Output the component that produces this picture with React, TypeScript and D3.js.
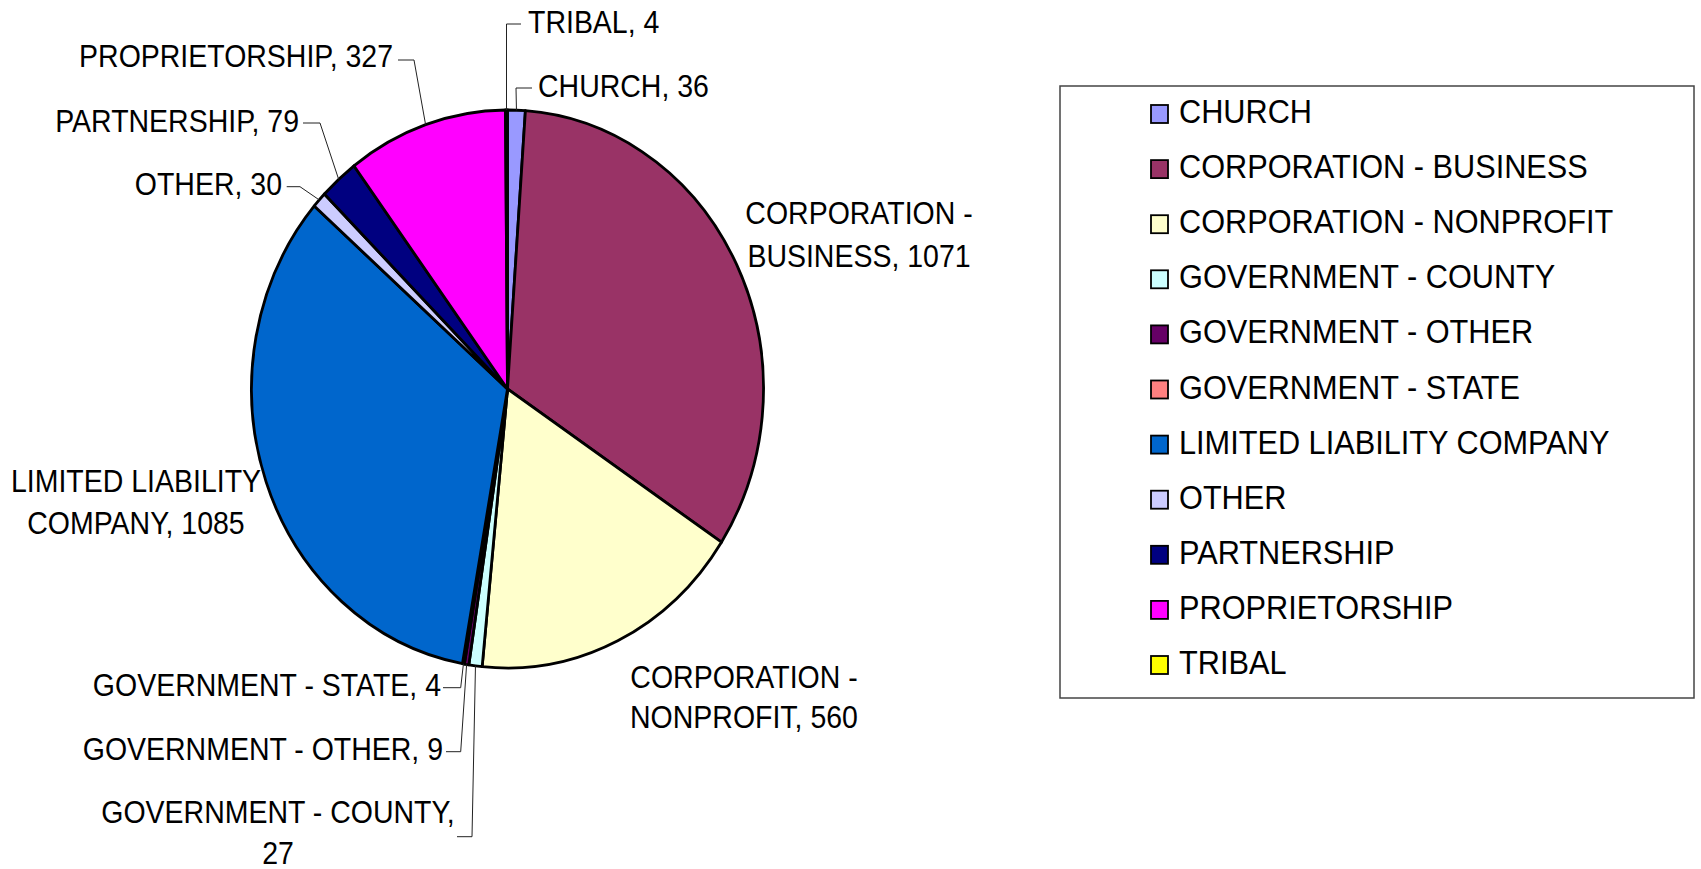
import React from "react";
import * as d3 from "d3";

const categories = [
  "CHURCH",
  "CORPORATION - BUSINESS",
  "CORPORATION - NONPROFIT",
  "GOVERNMENT - COUNTY",
  "GOVERNMENT - OTHER",
  "GOVERNMENT - STATE",
  "LIMITED LIABILITY COMPANY",
  "OTHER",
  "PARTNERSHIP",
  "PROPRIETORSHIP",
  "TRIBAL",
];
const values = [36, 1071, 560, 27, 9, 4, 1085, 30, 79, 327, 4];
const colors = [
  "#9999FF",
  "#993366",
  "#FFFFCC",
  "#CCFFFF",
  "#660066",
  "#FF8080",
  "#0066CC",
  "#CCCCFF",
  "#000080",
  "#FF00FF",
  "#FFFF00",
];

type Lab = {
  lines: string[];
  x: number;
  y: number;
  gap: number;
  anchor: "start" | "middle" | "end";
  leader?: [number, number][];
};
const labelLayout: Lab[] = [
  { lines: ["CHURCH, 36"], x: 538, y: 97, gap: 0, anchor: "start", leader: [[532, 88], [516, 88]] },
  { lines: ["CORPORATION -", "BUSINESS, 1071"], x: 859, y: 224, gap: 43, anchor: "middle" },
  { lines: ["CORPORATION -", "NONPROFIT, 560"], x: 744, y: 688, gap: 40, anchor: "middle" },
  { lines: ["GOVERNMENT - COUNTY,", "27"], x: 278, y: 823, gap: 41, anchor: "middle", leader: [[457, 836.7], [472, 836.7]] },
  { lines: ["GOVERNMENT - OTHER, 9"], x: 443, y: 760, gap: 0, anchor: "end", leader: [[446, 751.7], [460.7, 751.7]] },
  { lines: ["GOVERNMENT - STATE, 4"], x: 441, y: 696, gap: 0, anchor: "end", leader: [[443, 687.7], [460.7, 687.7]] },
  { lines: ["LIMITED LIABILITY", "COMPANY, 1085"], x: 136, y: 492, gap: 42, anchor: "middle" },
  { lines: ["OTHER, 30"], x: 282, y: 195, gap: 0, anchor: "end", leader: [[286.7, 186.7], [300, 186.7]] },
  { lines: ["PARTNERSHIP, 79"], x: 299, y: 132, gap: 0, anchor: "end", leader: [[303, 123], [320, 123]] },
  { lines: ["PROPRIETORSHIP, 327"], x: 393, y: 67, gap: 0, anchor: "end", leader: [[398, 60], [414, 60]] },
  { lines: ["TRIBAL, 4"], x: 528, y: 33, gap: 0, anchor: "start", leader: [[521, 24], [506.5, 24]] },
];

const W = 1701;
const H = 869;
const cx = 507.5;
const cy = 389;
const rx = 256;
const ry = 279;
const FONT = "'Liberation Sans', Arial, sans-serif";
const SY = 1.1;

const pt = (a: number): [number, number] => [cx + rx * Math.sin(a), cy - ry * Math.cos(a)];

function slicePath(a0: number, a1: number): string {
  const [x0, y0] = pt(a0);
  const [x1, y1] = pt(a1);
  const large = a1 - a0 > Math.PI ? 1 : 0;
  return `M${cx},${cy}L${x0},${y0}A${rx},${ry} 0 ${large} 1 ${x1},${y1}Z`;
}

export default function App() {
  const pie = d3
    .pie<number>()
    .sort(null)
    .value((d) => d)
    .startAngle(0)
    .endAngle(2 * Math.PI);
  const arcs = pie(values);

  const legendX = 1060;
  const legendY = 86;
  const legendW = 634;
  const legendH = 612;
  const rowStep = 55.1;

  return (
    <svg
      width={W}
      height={H}
      style={{ position: "absolute", left: 0, top: 0, background: "#fff" }}
      fontFamily={FONT}
    >
      <rect x={0} y={0} width={W} height={H} fill="#fff" />
      {arcs.map((a, i) => (
        <path
          key={i}
          d={slicePath(a.startAngle, a.endAngle)}
          fill={colors[i]}
          stroke="#000"
          strokeWidth={2.8}
          strokeLinejoin="round"
        />
      ))}
      {arcs.map((a, i) => {
        const L = labelLayout[i];
        if (!L.leader) return null;
        const mid = (a.startAngle + a.endAngle) / 2;
        const pts = [...L.leader, pt(mid)];
        const line = d3.line()(pts as [number, number][]);
        return <path key={"l" + i} d={line || ""} fill="none" stroke="#222" strokeWidth={1} />;
      })}
      {labelLayout.map((L, i) =>
        L.lines.map((t, j) => (
          <text
            key={"t" + i + "-" + j}
            transform={`translate(${L.x},${L.y + j * L.gap}) scale(1,${SY})`}
            textAnchor={L.anchor}
            fontSize={28.5}
            fill="#000"
          >
            {t}
          </text>
        ))
      )}
      <rect
        x={legendX}
        y={legendY}
        width={legendW}
        height={legendH}
        fill="#fff"
        stroke="#444"
        strokeWidth={1.5}
      />
      {categories.map((c, i) => (
        <g key={"lg" + i}>
          <rect
            x={1151}
            y={105 + i * rowStep}
            width={17}
            height={18}
            fill={colors[i]}
            stroke="#000"
            strokeWidth={1.8}
          />
          <text
            transform={`translate(1179,${123 + i * rowStep}) scale(1,${SY})`}
            fontSize={30.7}
            fill="#000"
          >
            {c}
          </text>
        </g>
      ))}
    </svg>
  );
}
